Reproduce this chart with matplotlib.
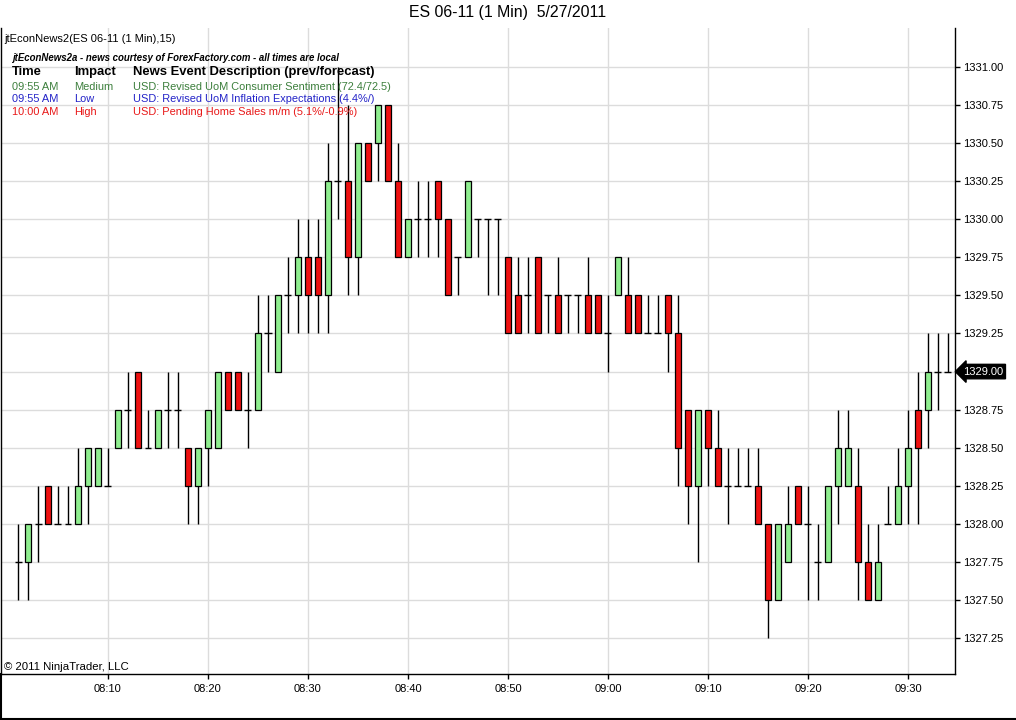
import matplotlib
matplotlib.use('Agg')
import matplotlib.pyplot as plt
from matplotlib.lines import Line2D
from matplotlib.transforms import blended_transform_factory

plt.rcParams['font.family'] = ['Liberation Sans', 'DejaVu Sans']

# 1 minute bars, 08:01 .. 09:34
first_bar = '08:01'
opens = [1327.75, 1327.75, 1328.00, 1328.25, 1328.00, 1328.00, 1328.00, 1328.25, 1328.25, 1328.25,
         1328.50, 1328.75, 1329.00, 1328.50, 1328.50, 1328.75, 1328.75, 1328.50, 1328.25, 1328.50,
         1328.50, 1329.00, 1329.00, 1328.75, 1328.75, 1329.25, 1329.00, 1329.50, 1329.50, 1329.75,
         1329.75, 1329.50, 1330.25, 1330.25, 1329.75, 1330.50, 1330.50, 1330.75, 1330.25, 1329.75,
         1330.00, 1330.00, 1330.25, 1330.00, 1329.75, 1329.75, 1330.00, 1330.00, 1330.00, 1329.75,
         1329.50, 1329.50, 1329.75, 1329.50, 1329.50, 1329.50, 1329.50, 1329.50, 1329.50, 1329.25,
         1329.50, 1329.50, 1329.50, 1329.25, 1329.25, 1329.50, 1329.25, 1328.75, 1328.25, 1328.75,
         1328.50, 1328.25, 1328.25, 1328.25, 1328.25, 1328.00, 1327.50, 1327.75, 1328.25, 1328.00,
         1327.75, 1327.75, 1328.25, 1328.25, 1328.25, 1327.75, 1327.50, 1328.00, 1328.00, 1328.25,
         1328.75, 1328.75, 1329.00, 1329.00]
highs = [1328.00, 1328.00, 1328.25, 1328.25, 1328.25, 1328.25, 1328.50, 1328.50, 1328.50, 1328.50,
         1328.75, 1329.00, 1329.00, 1328.75, 1328.75, 1329.00, 1329.00, 1328.50, 1328.50, 1328.75,
         1329.00, 1329.00, 1329.00, 1329.00, 1329.50, 1329.50, 1329.50, 1329.75, 1330.00, 1330.00,
         1330.00, 1330.50, 1331.00, 1330.75, 1330.50, 1330.50, 1330.75, 1330.75, 1330.50, 1330.00,
         1330.25, 1330.25, 1330.25, 1330.00, 1329.75, 1330.25, 1330.00, 1330.00, 1330.00, 1329.75,
         1329.75, 1329.75, 1329.75, 1329.50, 1329.75, 1329.50, 1329.50, 1329.75, 1329.50, 1329.50,
         1329.75, 1329.75, 1329.50, 1329.50, 1329.50, 1329.50, 1329.50, 1328.75, 1328.75, 1328.75,
         1328.75, 1328.50, 1328.50, 1328.50, 1328.50, 1328.00, 1328.00, 1328.25, 1328.25, 1328.25,
         1328.00, 1328.25, 1328.75, 1328.75, 1328.50, 1328.00, 1328.00, 1328.25, 1328.50, 1328.75,
         1329.00, 1329.25, 1329.25, 1329.25]
lows = [1327.50, 1327.50, 1327.75, 1328.00, 1328.00, 1328.00, 1328.00, 1328.00, 1328.25, 1328.25,
        1328.50, 1328.50, 1328.50, 1328.50, 1328.50, 1328.50, 1328.50, 1328.00, 1328.00, 1328.25,
        1328.50, 1328.75, 1328.75, 1328.50, 1328.75, 1329.00, 1329.00, 1329.25, 1329.25, 1329.25,
        1329.25, 1329.25, 1330.00, 1329.50, 1329.50, 1330.25, 1330.25, 1330.25, 1329.75, 1329.75,
        1329.75, 1329.75, 1329.75, 1329.50, 1329.50, 1329.75, 1329.75, 1329.50, 1329.50, 1329.25,
        1329.25, 1329.25, 1329.25, 1329.25, 1329.25, 1329.25, 1329.25, 1329.25, 1329.25, 1329.00,
        1329.50, 1329.25, 1329.25, 1329.25, 1329.25, 1329.00, 1328.25, 1328.00, 1327.75, 1328.25,
        1328.25, 1328.00, 1328.25, 1328.25, 1328.00, 1327.25, 1327.50, 1327.75, 1328.00, 1327.50,
        1327.50, 1327.75, 1328.00, 1328.25, 1327.50, 1327.50, 1327.50, 1328.00, 1328.00, 1328.00,
        1328.00, 1328.50, 1328.75, 1329.00]
closes = [1327.75, 1328.00, 1328.00, 1328.00, 1328.00, 1328.00, 1328.25, 1328.50, 1328.50, 1328.25,
          1328.75, 1328.75, 1328.50, 1328.50, 1328.75, 1328.75, 1328.75, 1328.25, 1328.50, 1328.75,
          1329.00, 1328.75, 1328.75, 1328.75, 1329.25, 1329.25, 1329.50, 1329.50, 1329.75, 1329.50,
          1329.50, 1330.25, 1330.25, 1329.75, 1330.50, 1330.25, 1330.75, 1330.25, 1329.75, 1330.00,
          1330.00, 1330.00, 1330.00, 1329.50, 1329.75, 1330.25, 1330.00, 1330.00, 1330.00, 1329.25,
          1329.25, 1329.50, 1329.25, 1329.50, 1329.25, 1329.50, 1329.50, 1329.25, 1329.25, 1329.25,
          1329.75, 1329.25, 1329.25, 1329.25, 1329.25, 1329.25, 1328.50, 1328.25, 1328.75, 1328.50,
          1328.25, 1328.25, 1328.25, 1328.25, 1328.00, 1327.50, 1328.00, 1328.00, 1328.00, 1328.00,
          1327.75, 1328.25, 1328.50, 1328.50, 1327.75, 1327.50, 1327.75, 1328.00, 1328.25, 1328.50,
          1328.50, 1329.00, 1329.00, 1329.00]

time_ticks = ['08:10', '08:20', '08:30', '08:40', '08:50', '09:00', '09:10', '09:20', '09:30']
price_ticks = [1327.25, 1327.50, 1327.75, 1328.00, 1328.25, 1328.50, 1328.75,
               1329.00, 1329.25, 1329.50, 1329.75, 1330.00, 1330.25, 1330.50, 1330.75, 1331.00]

news_times = ['09:55 AM', '09:55 AM', '10:00 AM']
news_impact = ['Medium', 'Low', 'High']
news_desc = ['USD: Revised UoM Consumer Sentiment (72.4/72.5)',
             'USD: Revised UoM Inflation Expectations (4.4%/)',
             'USD: Pending Home Sales m/m (5.1%/-0.9%)']
news_colors = ['#3c7f3c', '#2323c8', '#e81818']


def minutes(hhmm):
    h, m = hhmm.split(':')
    return int(h) * 60 + int(m)


W, H = 1016, 720
fig = plt.figure(figsize=(W / 100, H / 100), dpi=100)
ax = fig.add_axes([1 / W, 1 - 674 / H, 954 / W, 646 / H])

x = list(range(len(opens)))
up_col = '#90ee90'
dn_col = '#ee1111'

# wicks
ax.vlines(x, lows, highs, color='black', lw=1, zorder=2)

# bodies
for i in x:
    o, c = opens[i], closes[i]
    if o == c:
        ax.hlines(o, i - 0.35, i + 0.35, color='black', lw=1, zorder=3)
    else:
        ax.bar(i, abs(c - o), bottom=min(o, c), width=0.68,
               color=up_col if c > o else dn_col, edgecolor='black', lw=0.9, zorder=3)

t0 = minutes(first_bar)
ax.set_xticks([minutes(t) - t0 for t in time_ticks])
ax.set_xticklabels(time_ticks)
ax.set_yticks(price_ticks)
ax.set_yticklabels(['%.2f' % p for p in price_ticks])
ax.set_xlim(-1.7, 93.7)
ax.set_ylim(1327.014, 1331.256)

ax.yaxis.tick_right()
ax.tick_params(axis='both', direction='out', length=3.8, width=1, labelsize=8, colors='black')
ax.tick_params(axis='y', pad=2)
ax.tick_params(axis='x', pad=3.5)
ax.grid(True, color='#dcdcdc', lw=1)
ax.set_axisbelow(True)
ax.spines['top'].set_visible(False)
for s in ['left', 'bottom', 'right']:
    ax.spines[s].set_color('black')
    ax.spines[s].set_linewidth(1)

# last price marker
tr = blended_transform_factory(ax.transAxes, ax.transData)
ax.text(1.0085, closes[-1], '%.2f' % closes[-1], transform=tr, color='white', fontsize=8,
        va='center', ha='left', zorder=10, clip_on=False,
        bbox=dict(boxstyle='larrow,pad=0.2', fc='black', ec='black'))

# title and texts
fig.text(0.5, 1 - 13 / H, 'ES 06-11 (1 Min)  5/27/2011', ha='center', va='center', fontsize=11.4)
fig.text(4 / W, 1 - 39 / H, 'jtEconNews2(ES 06-11 (1 Min),15)', ha='left', va='center', fontsize=8)
fig.text(12 / W, 1 - 58 / H,
         'jtEconNews2a - news courtesy of ForexFactory.com - all times are local',
         ha='left', va='center', fontsize=6.9, fontweight='bold', style='italic')
for xp, lbl in zip([12, 74, 133], ['Time', 'Impact', 'News Event Description (prev/forecast)']):
    fig.text(xp / W, 1 - 72 / H, lbl, ha='left', va='center', fontsize=9.4, fontweight='bold')
for k in range(len(news_desc)):
    yp = 1 - (86.5 + k * 12.7) / H
    for xp, lbl in zip([12, 74, 133], [news_times[k], news_impact[k], news_desc[k]]):
        fig.text(xp / W, yp, lbl, ha='left', va='center', fontsize=7.9, color=news_colors[k])

fig.text(4 / W, 1 - 667 / H, '\u00a9 2011 NinjaTrader, LLC', ha='left', va='center', fontsize=8.2)

# outer frame, left and bottom
fig.add_artist(Line2D([1 / W, 1 / W], [0, 1 - 674 / H], color='black', lw=1.5))
fig.add_artist(Line2D([0, 1], [1.5 / H, 1.5 / H], color='black', lw=1.5))

fig.savefig('out.png', dpi=100)
